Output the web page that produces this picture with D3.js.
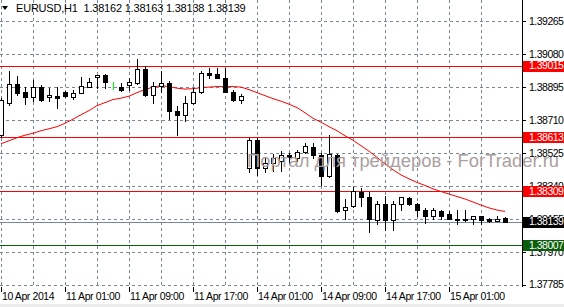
<!DOCTYPE html>
<html>
<head>
<meta charset="utf-8">
<script src="https://cdn.jsdelivr.net/npm/d3@7"></script>
<style>
html, body { margin: 0; padding: 0; background: #fff; }
svg { display: block; }
text { font-family: "Liberation Sans", Arial, sans-serif; }
</style>
</head>
<body>
<svg id="canvas" width="564" height="307"></svg>
<script>
// EURUSD H1, bars from 10 Apr 17:00 to 15 Apr
var opens = [1.38627,1.38807,1.38914,1.38869,1.38840,1.38897,1.38840,1.38843,1.38866,1.38838,
    1.38863,1.38897,1.38950,1.38964,1.38894,1.38894,1.38908,1.38919,1.38993,1.38849,
    1.38900,1.38916,1.38762,1.38736,1.38804,1.38866,1.38973,1.38967,1.38945,1.38866,
    1.38824,1.38441,1.38598,1.38441,1.38466,1.38480,1.38514,1.38494,1.38531,1.38559,
    1.38514,1.38393,1.38514,1.38202,1.38224,1.38306,1.38275,1.38148,1.38238,1.38148,
    1.38238,1.38269,1.38238,1.38204,1.38171,1.38199,1.38179,1.38156,1.38148,1.38156,
    1.38168,1.38156,1.38142,1.38162];
var highs = [1.38835,1.38987,1.38959,1.38897,1.38936,1.38908,1.38891,1.38897,1.38871,1.38880,
    1.38953,1.38947,1.38961,1.38970,1.38925,1.38919,1.38947,1.39054,1.39015,1.38925,
    1.38984,1.38928,1.38787,1.38846,1.38891,1.38987,1.39001,1.39001,1.39001,1.38880,
    1.38857,1.38610,1.38610,1.38497,1.38520,1.38536,1.38525,1.38542,1.38579,1.38579,
    1.38522,1.38627,1.38517,1.38266,1.38331,1.38328,1.38308,1.38252,1.38283,1.38252,
    1.38280,1.38278,1.38244,1.38213,1.38213,1.38204,1.38196,1.38204,1.38204,1.38172,
    1.38173,1.38159,1.38168,1.38163];
var lows = [1.38615,1.38795,1.38852,1.38801,1.38818,1.38818,1.38818,1.38779,1.38840,1.38829,
    1.38860,1.38894,1.38891,1.38891,1.38885,1.38874,1.38880,1.38914,1.38846,1.38807,
    1.38869,1.38717,1.38627,1.38702,1.38801,1.38863,1.38947,1.38945,1.38866,1.38815,
    1.38807,1.38418,1.38401,1.38418,1.38421,1.38421,1.38469,1.38480,1.38522,1.38494,
    1.38345,1.38390,1.38193,1.38154,1.38221,1.38227,1.38078,1.38128,1.38092,1.38094,
    1.38202,1.38232,1.38171,1.38134,1.38156,1.38156,1.38151,1.38128,1.38145,1.38128,
    1.38128,1.38137,1.38140,1.38138];
var closes = [1.38824,1.38914,1.38863,1.38840,1.38897,1.38824,1.38852,1.38835,1.38846,1.38863,
    1.38902,1.38922,1.38960,1.38922,1.38894,1.38877,1.38925,1.38993,1.38849,1.38902,
    1.38916,1.38759,1.38736,1.38804,1.38866,1.38973,1.38964,1.38947,1.38869,1.38824,
    1.38846,1.38598,1.38441,1.38466,1.38494,1.38511,1.38500,1.38528,1.38562,1.38514,
    1.38393,1.38517,1.38196,1.38221,1.38311,1.38278,1.38156,1.38238,1.38148,1.38238,
    1.38275,1.38238,1.38204,1.38171,1.38204,1.38171,1.38156,1.38148,1.38156,1.38171,
    1.38148,1.38140,1.38156,1.38139];
// red moving average
var maValues = [1.38576,1.38593,1.38610,1.38624,1.38635,1.38649,1.38660,1.38672,1.38691,1.38714,
    1.38739,1.38762,1.38790,1.38807,1.38824,1.38832,1.38843,1.38863,1.38880,1.38894,
    1.38902,1.38897,1.38888,1.38883,1.38885,1.38891,1.38894,1.38897,1.38897,1.38897,
    1.38894,1.38880,1.38863,1.38846,1.38829,1.38815,1.38798,1.38779,1.38750,1.38719,
    1.38697,1.38672,1.38649,1.38621,1.38596,1.38565,1.38534,1.38500,1.38463,1.38430,
    1.38401,1.38379,1.38359,1.38342,1.38323,1.38308,1.38294,1.38280,1.38266,1.38249,
    1.38232,1.38216,1.38204,1.38196];

var priceTicks = [1.39265, 1.39080, 1.38895, 1.38710, 1.38525, 1.38340, 1.38155, 1.37970, 1.37785];
var timeLabels = ["10 Apr 2014", "11 Apr 01:00", "11 Apr 09:00", "11 Apr 17:00",
    "14 Apr 01:00", "14 Apr 09:00", "14 Apr 17:00", "15 Apr 01:00"];
var redLevels = [1.39015, 1.38613, 1.38309];
var greenLevels = [1.38007];
var bidPrice = 1.38139;
var titleText = "EURUSD,H1\u00a0\u00a01.38162 1.38163 1.38138 1.38139";
var watermark = "Портал для трейдеров - ForTrader.ru";

(function draw() {
    "use strict";

    var PLOT_RIGHT = 522;
    var PLOT_BOTTOM = 287;
    var GRID = "#778899";
    var svg = d3.select(document.getElementById('canvas'));

    var bars = d3.range(opens.length).map(function(i) {
        return { i: i, o: opens[i], h: highs[i], l: lows[i], c: closes[i], ma: maValues[i] };
    });

    var x = d3.scaleLinear().domain([0, bars.length - 1]).range([1, 1 + 8 * (bars.length - 1)]);
    var y = d3.scaleLinear().domain([1.37785, 1.39265]).range([284.7, 21]);
    function px(v) { return Math.round(x(v)) + 0.5; }
    function py(v) { return Math.round(y(v)) + 0.5; }

    svg.append('rect').attr('x', 0).attr('y', 0).attr('width', 564).attr('height', 307).attr('fill', '#fff');
    svg.append('rect').attr('x', 0).attr('y', 304).attr('width', 564).attr('height', 3).attr('fill', '#ececec');

    // grid
    var vGrid = d3.range(0, bars.length, 4);
    svg.append('g').selectAll('line').data(vGrid).enter().append('line')
        .attr('x1', px).attr('x2', px)
        .attr('y1', 0).attr('y2', PLOT_BOTTOM)
        .attr('stroke', GRID).attr('stroke-dasharray', '3,3');
    svg.append('g').selectAll('line').data(priceTicks).enter().append('line')
        .attr('x1', 0).attr('x2', PLOT_RIGHT)
        .attr('y1', py).attr('y2', py)
        .attr('stroke', GRID).attr('stroke-dasharray', '3,3');

    // horizontal levels
    svg.append('g').selectAll('line').data(redLevels).enter().append('line')
        .attr('x1', 0).attr('x2', PLOT_RIGHT).attr('y1', py).attr('y2', py)
        .attr('stroke', '#ff0000');
    svg.append('g').selectAll('line').data(greenLevels).enter().append('line')
        .attr('x1', 0).attr('x2', PLOT_RIGHT).attr('y1', py).attr('y2', py)
        .attr('stroke', '#0b5e0b');
    svg.append('line')
        .attr('x1', 0).attr('x2', PLOT_RIGHT).attr('y1', py(bidPrice)).attr('y2', py(bidPrice))
        .attr('stroke', GRID);

    // moving average
    var maLine = d3.line()
        .x(function(d) { return x(d.i); })
        .y(function(d) { return y(d.ma); });
    svg.append('path').datum(bars)
        .attr('d', maLine)
        .attr('fill', 'none')
        .attr('stroke', '#ff0000')
        .attr('stroke-width', 1);

    // candles
    var candles = svg.append('g').selectAll('g').data(bars).enter().append('g');
    candles.append('line')
        .attr('x1', function(d) { return px(d.i); })
        .attr('x2', function(d) { return px(d.i); })
        .attr('y1', function(d) { return Math.round(y(d.h)); })
        .attr('y2', function(d) { return Math.round(y(d.l)) + 1; })
        .attr('stroke', function(d) { return d.o === d.c ? '#00ff00' : '#000'; });
    candles.append('rect')
        .attr('x', function(d) { return px(d.i) - 2; })
        .attr('width', 4)
        .attr('y', function(d) { return py(Math.max(d.o, d.c)); })
        .attr('height', function(d) { return Math.round(y(Math.min(d.o, d.c))) - Math.round(y(Math.max(d.o, d.c))); })
        .attr('fill', function(d) { return d.c < d.o ? '#000' : '#fff'; })
        .attr('stroke', function(d) { return d.o === d.c ? '#00ff00' : '#000'; });

    // watermark
    svg.append('text')
        .attr('x', 247).attr('y', 167)
        .attr('font-size', '19px')
        .attr('textLength', 312)
        .attr('lengthAdjust', 'spacingAndGlyphs')
        .attr('fill', '#aaa0a0')
        .text(watermark);

    // frame and right axis
    svg.append('line').attr('x1', PLOT_RIGHT + 0.5).attr('x2', PLOT_RIGHT + 0.5)
        .attr('y1', 0).attr('y2', PLOT_BOTTOM).attr('stroke', '#000');
    var yAxis = svg.append('g');
    yAxis.selectAll('line').data(priceTicks).enter().append('line')
        .attr('x1', PLOT_RIGHT).attr('x2', PLOT_RIGHT + 4)
        .attr('y1', py).attr('y2', py).attr('stroke', '#000');
    yAxis.selectAll('text').data(priceTicks).enter().append('text')
        .attr('x', 529).attr('y', function(d) { return y(d); })
        .attr('dy', '0.36em')
        .attr('font-size', '10.5px').attr('letter-spacing', '-0.5px')
        .attr('fill', '#000')
        .text(function(d) { return d.toFixed(5); });

    // time axis
    var timeIdx = timeLabels.map(function(t, k) { return k * 8; });
    var xAxis = svg.append('g');
    xAxis.selectAll('line').data(timeIdx).enter().append('line')
        .attr('x1', px).attr('x2', px)
        .attr('y1', PLOT_BOTTOM).attr('y2', PLOT_BOTTOM + 5).attr('stroke', '#000');
    xAxis.selectAll('text').data(timeIdx).enter().append('text')
        .attr('x', function(d) { return x(d) + 1; }).attr('y', 300)
        .attr('font-size', '10.5px').attr('letter-spacing', '-0.4px')
        .attr('fill', '#000')
        .text(function(d, k) { return timeLabels[k]; });

    // price labels on axis
    var tags = redLevels.map(function(v) { return { v: v, bg: '#ff0000' }; })
        .concat([{ v: bidPrice, bg: '#000' }])
        .concat(greenLevels.map(function(v) { return { v: v, bg: '#0b5e0b' }; }));
    var tag = svg.append('g').selectAll('g').data(tags).enter().append('g');
    tag.append('rect')
        .attr('x', PLOT_RIGHT + 1).attr('width', 564 - PLOT_RIGHT - 1)
        .attr('y', function(d) { return Math.round(y(d.v)) - 5; })
        .attr('height', 11)
        .attr('fill', function(d) { return d.bg; });
    tag.append('text')
        .attr('x', 529).attr('y', function(d) { return y(d.v); })
        .attr('dy', '0.36em')
        .attr('font-size', '10.5px').attr('letter-spacing', '-0.5px')
        .attr('fill', '#fff')
        .text(function(d) { return d.v.toFixed(5); });

    // title
    svg.append('path').attr('d', 'M2,6 L8,6 L5,10 Z').attr('fill', '#000');
    svg.append('text')
        .attr('x', 16).attr('y', 12)
        .attr('font-size', '11px').attr('letter-spacing', '-0.2px')
        .attr('fill', '#000')
        .text(titleText);
})();
</script>
</body>
</html>
